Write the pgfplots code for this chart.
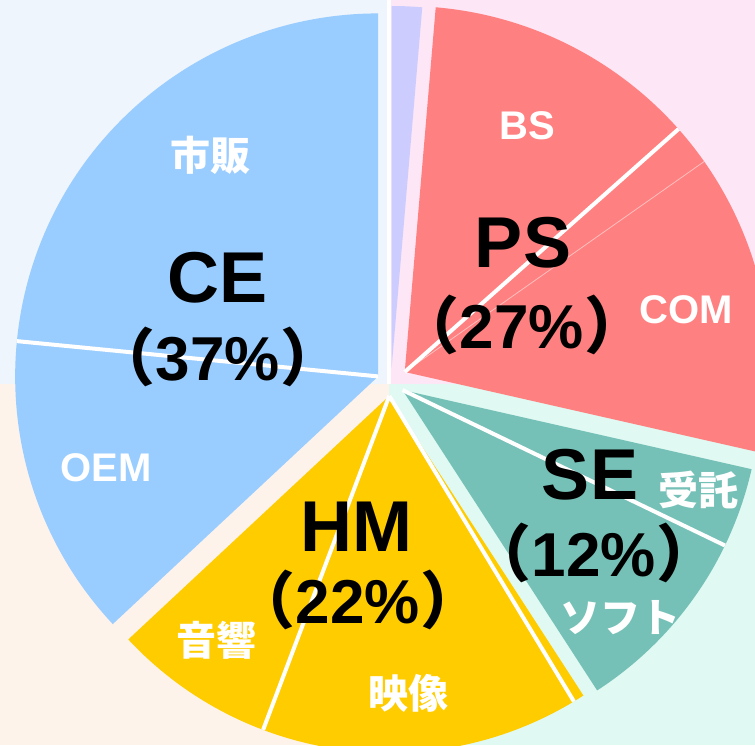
\documentclass[border=0pt]{standalone}
\usepackage{pgfplots}
\usepackage{pgfplotstable}
\pgfplotsset{compat=1.18}
\usepackage{fontspec}
\setmainfont{Liberation Sans}
\newfontfamily\cjk{Noto Sans CJK JP}
\definecolor{bgTL}{RGB}{238,245,252}
\definecolor{bgTR}{RGB}{253,230,245}
\definecolor{bgBR}{RGB}{224,249,242}
\definecolor{bgBL}{RGB}{253,243,235}
\definecolor{cCE}{RGB}{153,204,255}
\definecolor{cLV}{RGB}{204,204,255}
\definecolor{cPS}{RGB}{255,128,128}
\definecolor{cSE}{RGB}{118,193,183}
\definecolor{cHM}{RGB}{255,204,0}

% groups: share (%), explode distance, radius, colour
\pgfplotstableread{
name tot d R col
L 1.35 14 362 cLV
PS 27.2 17 366 cPS
SE 12.3 14 358 cSE
HM 22.2 14 357 cHM
CE 36.95 14 363 cCE
}\groupdata
% sub-slices: share (%), group index, width and opacity of the dividing line at its start
\pgfplotstableread{
name val g lw op
L 1.35 0 0 1
BS 12.1 1 0 1
PSx 1.8 1 4 1
COM 13.3 1 0.8 0.5
Jutaku 3.6 2 0 1
Soft 8.7 2 4 1
HMx 0.5 3 0 1
Eizo 14.4 3 4 1
Onkyo 7.3 3 4 1
OEM 13.5 4 0 1
Shihan 23.45 4 4 1
}\subdata

\begin{document}
\begin{tikzpicture}
\begin{axis}[
  width=755pt, height=745pt, scale only axis,
  xmin=0, xmax=755, ymin=0, ymax=745,
  hide axis, clip=true,
]
\fill[bgTL] (axis cs:0,361) rectangle (axis cs:387,745);
\fill[bgTR] (axis cs:391,361) rectangle (axis cs:755,745);
\fill[bgBR] (axis cs:389,0) rectangle (axis cs:755,361);
\fill[bgBL] (axis cs:0,0) rectangle (axis cs:389,361);

\pgfplotstablegetrowsof{\groupdata}
\pgfmathtruncatemacro{\Ng}{\pgfplotsretval-1}
\xdef\cum{0}
\foreach \i in {0,...,\Ng}{
  \pgfplotstablegetelem{\i}{tot}\of\groupdata \let\tot\pgfplotsretval
  \pgfplotstablegetelem{\i}{d}\of\groupdata \let\dd\pgfplotsretval
  \pgfplotstablegetelem{\i}{R}\of\groupdata \let\RR\pgfplotsretval
  \pgfplotstablegetelem{\i}{col}\of\groupdata \let\cc\pgfplotsretval
  \pgfmathsetmacro{\a}{90-3.6*\cum}
  \pgfmathsetmacro{\b}{90-3.6*(\cum+\tot)}
  \pgfmathsetmacro{\m}{(\a+\b)/2}
  \pgfmathsetmacro{\ax}{391+\dd*cos(\m)}
  \pgfmathsetmacro{\ay}{363+\dd*sin(\m)}
  \expandafter\xdef\csname apx\i\endcsname{\ax}
  \expandafter\xdef\csname apy\i\endcsname{\ay}
  \expandafter\xdef\csname apr\i\endcsname{\RR}
  \edef\temp{\noexpand\fill[\cc] (axis cs:\ax,\ay) -- ++(\a:\RR pt) arc[start angle=\a, end angle=\b, radius=\RR pt] -- cycle;}
  \temp
  \pgfmathsetmacro{\nc}{\cum+\tot}
  \xdef\cum{\nc}
}

\pgfplotstablegetrowsof{\subdata}
\pgfmathtruncatemacro{\Ns}{\pgfplotsretval-1}
\xdef\cum{0}
\foreach \i in {0,...,\Ns}{
  \pgfplotstablegetelem{\i}{val}\of\subdata \let\vv\pgfplotsretval
  \pgfplotstablegetelem{\i}{lw}\of\subdata \let\ww\pgfplotsretval
  \pgfplotstablegetelem{\i}{op}\of\subdata \let\oo\pgfplotsretval
  \pgfplotstablegetelem{\i}{g}\of\subdata \let\gidx\pgfplotsretval
  \pgfmathsetmacro{\a}{90-3.6*\cum}
  \ifdim\ww pt>0pt
    \edef\temp{\noexpand\draw[white, draw opacity=\oo, line width=\ww pt, line cap=butt] (axis cs:\csname apx\gidx\endcsname,\csname apy\gidx\endcsname) -- ++(\a:\csname apr\gidx\endcsname pt);}
    \temp
  \fi
  \pgfmathsetmacro{\nc}{\cum+\vv}
  \xdef\cum{\nc}
}

% group labels
\node[font=\bfseries\fontsize{72}{80}\selectfont, inner sep=0] at (axis cs:218,467) {CE};
\node[font=\bfseries\fontsize{62}{68}\selectfont, inner sep=0] at (axis cs:218,388) {{\cjk （}37\%{\cjk ）}};
\node[font=\bfseries\fontsize{72}{80}\selectfont, inner sep=0] at (axis cs:523,502) {PS};
\node[font=\bfseries\fontsize{62}{68}\selectfont, inner sep=0] at (axis cs:522,420) {{\cjk （}27\%{\cjk ）}};
\node[font=\bfseries\fontsize{72}{80}\selectfont, inner sep=0] at (axis cs:590,270) {SE};
\node[font=\bfseries\fontsize{62}{68}\selectfont, inner sep=0] at (axis cs:594,192) {{\cjk （}12\%{\cjk ）}};
\node[font=\bfseries\fontsize{72}{80}\selectfont, inner sep=0] at (axis cs:356,218) {HM};
\node[font=\bfseries\fontsize{62}{68}\selectfont, inner sep=0] at (axis cs:358,145) {{\cjk （}22\%{\cjk ）}};
% sub labels
\begin{scope}[every node/.style={text=white, inner sep=0, font=\bfseries\fontsize{40}{44}\selectfont}]
\node at (axis cs:210,590) {\cjk 市販};
\node at (axis cs:106,277) {OEM};
\node at (axis cs:527,619) {BS};
\node at (axis cs:686,435) {COM};
\node at (axis cs:698,255) {\cjk 受託};
\node at (axis cs:620,127) {\cjk ソフト};
\node at (axis cs:216,105) {\cjk 音響};
\node at (axis cs:408,52) {\cjk 映像};
\end{scope}
\end{axis}
\pgfresetboundingbox
\useasboundingbox (current axis.south west) rectangle (current axis.north east);
\end{tikzpicture}
\end{document}
